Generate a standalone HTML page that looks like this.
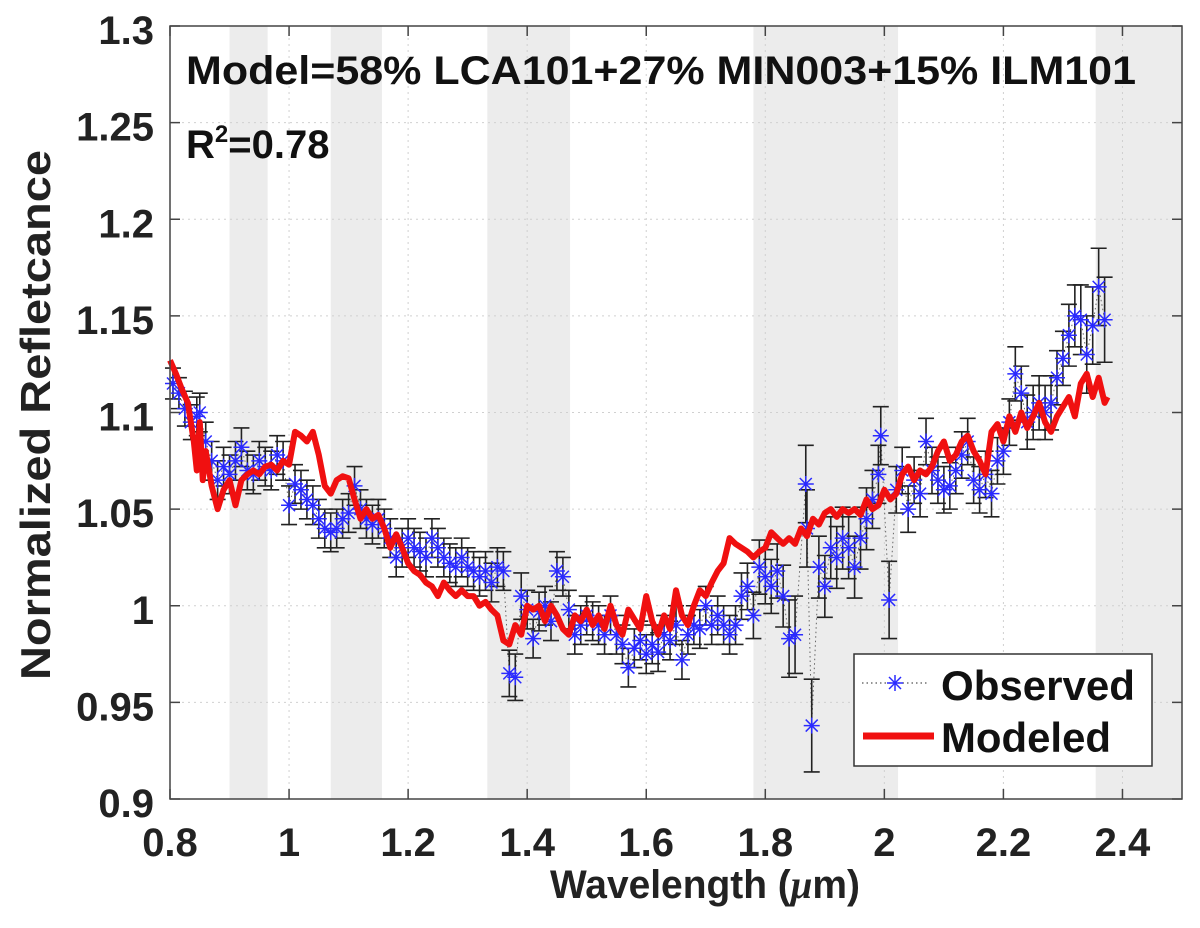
<!DOCTYPE html>
<html><head><meta charset="utf-8"><style>
body{margin:0;background:#fff;}
svg{display:block;font-family:"Liberation Sans",Arial,sans-serif;font-weight:bold;}
</style></head><body>
<svg id="chart" width="1200" height="928" viewBox="0 0 1200 928" xmlns="http://www.w3.org/2000/svg">
<g id="bands"></g>
<g id="grid"></g>
<g id="obs"></g>
<g id="model"></g>
<g id="axes"></g>
<text x="186" y="84" font-size="40" fill="#111" textLength="950" lengthAdjust="spacingAndGlyphs">Model=58% LCA101+27% MIN003+15% ILM101</text>
<text x="186" y="158" font-size="40" fill="#111">R<tspan font-size="24" dy="-16">2</tspan><tspan dy="16">=0.78</tspan></text>
<text x="705" y="898" font-size="40" text-anchor="middle" fill="#222" textLength="310" lengthAdjust="spacingAndGlyphs">Wavelength (<tspan font-family="Liberation Serif" font-style="italic">μ</tspan>m)</text>
<text transform="translate(50,415) rotate(-90)" font-size="42" text-anchor="middle" fill="#222" textLength="530" lengthAdjust="spacingAndGlyphs">Normalized Refletcance</text>
<g>
<rect x="854" y="654" width="298" height="112" fill="#fff" stroke="#333" stroke-width="1.5"/>
<line x1="862" y1="683" x2="929" y2="683" stroke="#555" stroke-width="1.2" stroke-dasharray="1.5,3"/>
<g stroke="#2a2aff" stroke-width="1.5"><line x1="887" y1="683" x2="903" y2="683"/><line x1="895" y1="675" x2="895" y2="691"/><line x1="889" y1="677" x2="901" y2="689"/><line x1="889" y1="689" x2="901" y2="677"/></g>
<text x="941" y="700" font-size="42" fill="#111" textLength="194" lengthAdjust="spacingAndGlyphs">Observed</text>
<line x1="863" y1="736" x2="934" y2="736" stroke="#f01010" stroke-width="7"/>
<text x="941" y="752" font-size="42" fill="#111" textLength="170" lengthAdjust="spacingAndGlyphs">Modeled</text>
</g>
</svg>
<script>
const bandStarts=[0.90,1.07,1.333,1.78,2.355];
const bandEnds=[0.964,1.156,1.472,2.023,2.5];
const xTicks=[0.8,1,1.2,1.4,1.6,1.8,2,2.2,2.4];
const xTickLabels=['0.8','1','1.2','1.4','1.6','1.8','2','2.2','2.4'];
const yTicks=[0.9,0.95,1,1.05,1.1,1.15,1.2,1.25,1.3];
const yTickLabels=['0.9','0.95','1','1.05','1.1','1.15','1.2','1.25','1.3'];
const obsX=[0.805,0.815,0.825,0.835,0.845,0.85,0.86,0.87,0.88,0.89,0.90,0.91,0.92,0.93,0.94,0.95,0.96,0.97,0.98,0.99,1.00,1.01,1.02,1.03,1.04,1.05,1.06,1.07,1.08,1.09,1.10,1.11,1.12,1.13,1.14,1.15,1.16,1.17,1.18,1.19,1.20,1.21,1.22,1.23,1.24,1.25,1.26,1.27,1.28,1.29,1.30,1.31,1.32,1.33,1.34,1.35,1.36,1.37,1.38,1.39,1.40,1.41,1.42,1.43,1.44,1.45,1.46,1.47,1.48,1.49,1.50,1.51,1.52,1.53,1.54,1.55,1.56,1.57,1.58,1.59,1.60,1.61,1.62,1.63,1.64,1.65,1.66,1.67,1.68,1.69,1.70,1.71,1.72,1.73,1.74,1.75,1.76,1.77,1.78,1.79,1.80,1.81,1.82,1.83,1.84,1.85,1.868,1.87,1.878,1.89,1.90,1.91,1.92,1.93,1.94,1.95,1.96,1.97,1.98,1.99,1.994,2.008,2.02,2.03,2.04,2.05,2.06,2.07,2.08,2.09,2.10,2.11,2.12,2.13,2.14,2.15,2.16,2.17,2.18,2.19,2.20,2.21,2.22,2.23,2.24,2.25,2.26,2.27,2.28,2.29,2.30,2.31,2.32,2.33,2.34,2.35,2.36,2.37];
const obsY=[1.115,1.110,1.102,1.095,1.098,1.100,1.085,1.075,1.065,1.072,1.068,1.075,1.082,1.070,1.068,1.075,1.072,1.070,1.078,1.075,1.052,1.063,1.060,1.055,1.052,1.045,1.040,1.038,1.040,1.045,1.048,1.062,1.050,1.045,1.042,1.045,1.040,1.035,1.025,1.030,1.035,1.030,1.028,1.025,1.035,1.030,1.025,1.022,1.020,1.025,1.020,1.018,1.015,1.018,1.012,1.020,1.018,0.965,0.963,1.005,0.998,0.983,0.997,1.000,0.992,1.018,1.015,0.998,0.985,0.990,0.995,0.992,0.990,0.985,0.995,0.985,0.980,0.968,0.978,0.982,0.975,0.980,0.976,0.985,0.982,0.990,0.972,0.985,0.990,0.988,1.000,0.990,0.995,0.990,0.985,0.990,1.005,1.010,0.995,1.020,1.015,1.010,1.018,1.005,0.983,0.985,1.063,1.040,0.938,1.020,1.010,1.030,1.025,1.035,1.030,1.020,1.035,1.045,1.055,1.068,1.088,1.003,1.060,1.070,1.050,1.065,1.058,1.085,1.070,1.065,1.060,1.062,1.070,1.078,1.085,1.065,1.060,1.068,1.058,1.075,1.080,1.095,1.120,1.110,1.095,1.100,1.105,1.100,1.105,1.118,1.128,1.140,1.150,1.148,1.130,1.145,1.165,1.148];
const obsErr=[0.008,0.008,0.009,0.009,0.010,0.010,0.010,0.010,0.010,0.010,0.010,0.010,0.010,0.010,0.010,0.010,0.010,0.010,0.010,0.010,0.010,0.010,0.010,0.010,0.010,0.010,0.010,0.010,0.010,0.010,0.010,0.010,0.010,0.010,0.010,0.010,0.010,0.010,0.010,0.010,0.010,0.010,0.010,0.010,0.010,0.010,0.010,0.010,0.010,0.010,0.010,0.010,0.010,0.010,0.010,0.010,0.010,0.012,0.012,0.012,0.010,0.010,0.010,0.010,0.010,0.010,0.010,0.010,0.010,0.010,0.010,0.010,0.010,0.010,0.010,0.010,0.010,0.010,0.010,0.010,0.010,0.010,0.010,0.010,0.010,0.010,0.010,0.010,0.010,0.010,0.010,0.010,0.010,0.010,0.010,0.010,0.012,0.012,0.012,0.014,0.014,0.014,0.014,0.016,0.020,0.020,0.020,0.020,0.024,0.016,0.016,0.016,0.016,0.016,0.016,0.016,0.016,0.016,0.015,0.015,0.015,0.020,0.012,0.012,0.012,0.012,0.012,0.012,0.012,0.012,0.012,0.012,0.012,0.012,0.012,0.012,0.012,0.012,0.012,0.012,0.012,0.012,0.014,0.014,0.014,0.014,0.014,0.014,0.014,0.014,0.014,0.016,0.016,0.018,0.020,0.020,0.020,0.022,0.024,0.025];
const modX=[0.80,0.81,0.82,0.83,0.84,0.845,0.85,0.855,0.86,0.87,0.88,0.89,0.90,0.91,0.92,0.93,0.94,0.95,0.96,0.97,0.98,0.99,1.00,1.01,1.02,1.03,1.04,1.05,1.06,1.07,1.08,1.09,1.10,1.11,1.12,1.13,1.14,1.15,1.16,1.17,1.18,1.19,1.20,1.21,1.22,1.23,1.24,1.25,1.26,1.27,1.28,1.29,1.30,1.31,1.32,1.33,1.34,1.35,1.36,1.37,1.38,1.39,1.40,1.41,1.42,1.43,1.44,1.45,1.46,1.47,1.48,1.49,1.50,1.51,1.52,1.53,1.54,1.55,1.56,1.57,1.58,1.59,1.60,1.61,1.62,1.63,1.64,1.65,1.66,1.67,1.68,1.69,1.70,1.71,1.72,1.73,1.74,1.75,1.76,1.77,1.78,1.79,1.80,1.81,1.82,1.83,1.84,1.85,1.86,1.87,1.88,1.89,1.90,1.91,1.92,1.93,1.94,1.95,1.96,1.97,1.98,1.99,2.00,2.01,2.02,2.03,2.04,2.05,2.06,2.07,2.08,2.09,2.10,2.11,2.12,2.13,2.14,2.15,2.16,2.17,2.18,2.19,2.20,2.21,2.22,2.23,2.24,2.25,2.26,2.27,2.28,2.29,2.30,2.31,2.32,2.33,2.34,2.35,2.36,2.37,2.375];
const modY=[1.127,1.120,1.112,1.105,1.085,1.070,1.095,1.065,1.080,1.062,1.050,1.060,1.065,1.052,1.065,1.068,1.070,1.068,1.072,1.073,1.070,1.075,1.073,1.090,1.088,1.085,1.090,1.078,1.062,1.058,1.065,1.067,1.066,1.055,1.045,1.050,1.045,1.047,1.040,1.030,1.037,1.030,1.022,1.018,1.016,1.012,1.010,1.005,1.012,1.008,1.005,1.008,1.005,1.005,1.000,1.002,0.998,0.995,0.982,0.980,0.990,0.985,1.000,0.998,1.000,0.992,1.000,0.995,0.988,0.985,0.995,0.992,0.998,0.990,0.995,0.988,1.000,0.990,0.985,0.998,0.993,0.988,1.005,0.992,0.985,0.995,0.988,1.008,0.995,0.990,1.000,1.008,1.005,1.012,1.018,1.022,1.035,1.032,1.030,1.028,1.025,1.028,1.030,1.038,1.035,1.032,1.035,1.032,1.040,1.036,1.045,1.042,1.048,1.050,1.046,1.050,1.048,1.050,1.047,1.055,1.050,1.052,1.060,1.055,1.058,1.068,1.072,1.065,1.070,1.068,1.072,1.080,1.085,1.075,1.078,1.085,1.088,1.080,1.075,1.068,1.090,1.094,1.085,1.098,1.090,1.100,1.092,1.098,1.105,1.095,1.090,1.098,1.103,1.108,1.098,1.115,1.120,1.108,1.118,1.105,1.108];

const NS='http://www.w3.org/2000/svg';
const L=170,R=1182,T=26,B=799,XMIN=0.8,XMAX=2.5,YMIN=0.9,YMAX=1.3;
const sx=v=>L+(v-XMIN)/(XMAX-XMIN)*(R-L);
const sy=v=>B-(v-YMIN)/(YMAX-YMIN)*(B-T);
function mk(tag,parent,attrs){const e=document.createElementNS(NS,tag);for(const k in attrs)e.setAttribute(k,attrs[k]);parent.appendChild(e);return e;}
const gb=document.getElementById('bands');
bandStarts.forEach((s,i)=>{const r=mk('rect',gb,{x:sx(s),y:T,width:sx(bandEnds[i])-sx(s),height:B-T,fill:'#ececec'});

});
const gg=document.getElementById('grid');
xTicks.forEach(t=>{const l=mk('line',gg,{x1:sx(t),x2:sx(t),y1:T,y2:B,stroke:'#d0d0d0','stroke-width':1,'stroke-dasharray':'2,4'});

});
yTicks.forEach(t=>{const l=mk('line',gg,{x1:L,x2:R,y1:sy(t),y2:sy(t),stroke:'#d0d0d0','stroke-width':1,'stroke-dasharray':'2,4'});

});
const go=document.getElementById('obs');
const op=mk('polyline',go,{points:obsX.map((x,i)=>sx(x)+','+sy(obsY[i])).join(' '),fill:'none',stroke:'#666','stroke-width':1,'stroke-dasharray':'1.5,3'});


obsX.forEach((x,i)=>{const px=sx(x),y1=sy(obsY[i]+obsErr[i]),y2=sy(obsY[i]-obsErr[i]);
const g=mk('g',go,{stroke:'#222','stroke-width':1.6});


mk('line',g,{x1:px,x2:px,y1:y1,y2:y2});mk('line',g,{x1:px-8,x2:px+8,y1:y1,y2:y1});mk('line',g,{x1:px-8,x2:px+8,y1:y2,y2:y2});});
obsX.forEach((x,i)=>{const px=sx(x),py=sy(obsY[i]);
const g=mk('g',go,{stroke:'#2a2aff','stroke-width':1.5});


mk('line',g,{x1:px-8,x2:px+8,y1:py,y2:py});mk('line',g,{x1:px,x2:px,y1:py-8,y2:py+8});
mk('line',g,{x1:px-6,x2:px+6,y1:py-6,y2:py+6});mk('line',g,{x1:px-6,x2:px+6,y1:py+6,y2:py-6});});
const gm=document.getElementById('model');
const mp=mk('polyline',gm,{points:modX.map((x,i)=>sx(x)+','+sy(modY[i])).join(' '),fill:'none',stroke:'#f01010','stroke-width':6,'stroke-linejoin':'round'});


const ga=document.getElementById('axes');
const fr=mk('rect',ga,{x:L,y:T,width:R-L,height:B-T,fill:'none',stroke:'#444','stroke-width':1.5});


xTicks.forEach((t,i)=>{mk('line',ga,{x1:sx(t),x2:sx(t),y1:B,y2:B-10,stroke:'#444','stroke-width':1.5});mk('line',ga,{x1:sx(t),x2:sx(t),y1:T,y2:T+10,stroke:'#444','stroke-width':1.5});
const tx=mk('text',ga,{x:sx(t),y:856,'font-size':40,'text-anchor':'middle',fill:'#222'});tx.textContent=xTickLabels[i];

});
yTicks.forEach((t,i)=>{mk('line',ga,{x1:L,x2:L+10,y1:sy(t),y2:sy(t),stroke:'#444','stroke-width':1.5});mk('line',ga,{x1:R,x2:R-10,y1:sy(t),y2:sy(t),stroke:'#444','stroke-width':1.5});
const tx=mk('text',ga,{x:154,y:sy(t)+18,'font-size':40,'text-anchor':'end',fill:'#222'});tx.textContent=yTickLabels[i];

});
</script>
</body></html>
